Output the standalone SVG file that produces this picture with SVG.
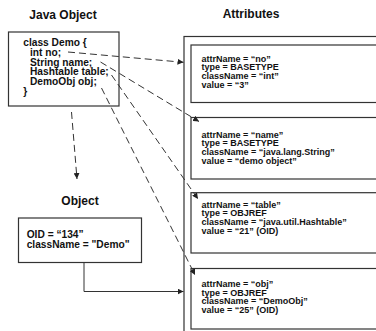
<svg xmlns="http://www.w3.org/2000/svg" width="376" height="331" viewBox="0 0 376 331">
<defs>
<marker id="arr" markerUnits="userSpaceOnUse" markerWidth="7" markerHeight="6" refX="6" refY="3" orient="auto">
<path d="M0,0 L6,3 L0,6 z" fill="#222"/>
</marker>
<style>
text{font-family:"Liberation Sans",Arial,Helvetica,sans-serif;font-weight:bold;fill:#111}
.title{font-size:12px}
.code{font-size:10.2px}
.attr{font-size:9px}
.box{fill:#fff;stroke:#333;stroke-width:1.2}
.dash{fill:none;stroke:#333;stroke-width:1;stroke-dasharray:7 4}
.solid{fill:none;stroke:#333;stroke-width:1}
</style>
</defs>
<rect width="376" height="331" fill="#fff"/>

<g id="java-object">
<text class="title" x="63" y="19" text-anchor="middle">Java Object</text>
<rect class="box" x="8.5" y="32" width="110.5" height="74"/>
<text class="code" x="23.3" y="46">class Demo {</text>
<text class="code" x="30" y="55.8">int no;</text>
<text class="code" x="30" y="65.6">String name;</text>
<text class="code" x="30" y="75.4">Hashtable table;</text>
<text class="code" x="30" y="85.2">DemoObj obj;</text>
<text class="code" x="23.3" y="95">}</text>
</g>

<g id="attributes">
<text class="title" x="251" y="18" text-anchor="middle">Attributes</text>
<rect class="box" x="184" y="36.5" width="200" height="300"/>
</g>

<g id="attr-no">
<rect class="box" x="191" y="45" width="190" height="57.5"/>
<text class="attr" x="201.5" y="61.5">attrName = “no”</text>
<text class="attr" x="201.5" y="70.2">type = BASETYPE</text>
<text class="attr" x="201.5" y="78.9">className = “int”</text>
<text class="attr" x="201.5" y="87.6">value = “3”</text>
</g>

<g id="attr-name">
<rect class="box" x="191" y="117.5" width="190" height="61.5"/>
<text class="attr" x="201.5" y="137.5">attrName = “name”</text>
<text class="attr" x="201.5" y="146.2">type = BASETYPE</text>
<text class="attr" x="201.5" y="154.9">className = “java.lang.String”</text>
<text class="attr" x="201.5" y="163.6">value = “demo object”</text>
</g>

<g id="attr-table">
<rect class="box" x="191" y="192.7" width="190" height="60.3"/>
<text class="attr" x="201.5" y="207.5">attrName = “table”</text>
<text class="attr" x="201.5" y="216.2">type = OBJREF</text>
<text class="attr" x="201.5" y="224.9">className = “java.util.Hashtable”</text>
<text class="attr" x="201.5" y="233.6">value = “21” (OID)</text>
</g>

<g id="attr-obj">
<rect class="box" x="191" y="268.5" width="190" height="60.5"/>
<text class="attr" x="201.5" y="287">attrName = “obj”</text>
<text class="attr" x="201.5" y="295.7">type = OBJREF</text>
<text class="attr" x="201.5" y="304.4">className = “DemoObj”</text>
<text class="attr" x="201.5" y="313.1">value = “25” (OID)</text>
</g>

<g id="object">
<text class="title" x="80" y="205" text-anchor="middle">Object</text>
<rect class="box" x="18.5" y="218" width="123" height="44.5"/>
<text class="code" x="26.7" y="237.7">OID = “134”</text>
<text class="code" x="26.7" y="247.5">className = "Demo"</text>
</g>

<g id="connectors">
<path class="dash" d="M68,52 L183.5,62.3" marker-end="url(#arr)"/>
<path class="dash" d="M100.5,62 L199,121.5" marker-end="url(#arr)"/>
<path class="dash" d="M111.5,75 L198,199" marker-end="url(#arr)"/>
<path class="dash" d="M101.5,88 L195,275" marker-end="url(#arr)"/>
<path class="dash" d="M71.5,112 L77,179" marker-end="url(#arr)"/>
<path class="solid" d="M84,262.5 L84,291.5 L183.5,291.5" marker-end="url(#arr)"/>
</g>
</svg>
